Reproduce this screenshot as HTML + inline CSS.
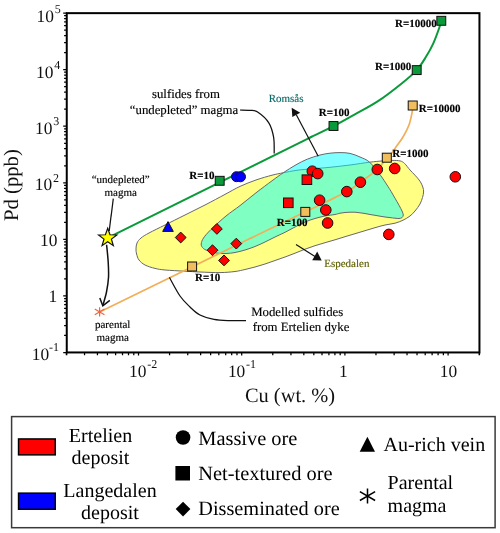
<!DOCTYPE html>
<html lang="en">
<head>
<meta charset="utf-8">
<title>Pd vs Cu</title>
<style>
html,body{margin:0;padding:0;background:#fff;}
body{width:500px;height:533px;overflow:hidden;font-family:"Liberation Serif","Times New Roman",serif;}
svg{display:block;text-rendering:geometricPrecision;will-change:transform;}
</style>
</head>
<body>
<svg width="500" height="533" viewBox="0 0 500 533">
<path d="M136 249C136.07 247.17 136.17 244.83 137 243C137.83 241.17 139 239.67 141 238C143 236.33 145 235.17 149 233C153 230.83 159 228 165 225C171 222 178.33 218.33 185 215C191.67 211.67 198.33 208.43 205 205C211.67 201.57 219.17 197.5 225 194.4C230.83 191.3 234.83 188.8 240 186.4C245.17 184 250.67 181.87 256 180C261.33 178.13 267.47 176.4 272 175.2C276.53 174 279.2 173.6 283.2 172.8C287.2 172 291.73 171.02 296 170.4C300.27 169.78 303.13 169.62 308.8 169.1C314.47 168.58 323.13 167.98 330 167.3C336.87 166.62 343.4 165.85 350 165C356.6 164.15 364.13 162.88 369.6 162.2C375.07 161.52 379.07 161.2 382.8 160.9C386.53 160.6 389.13 160.4 392 160.4C394.87 160.4 397.92 160.4 400 160.9C402.08 161.4 402.83 161.88 404.5 163.4C406.17 164.92 408.25 168.03 410 170C411.75 171.97 413.33 173.33 415 175.2C416.67 177.07 418.7 179.23 420 181.2C421.3 183.17 422.2 185.2 422.8 187C423.4 188.8 423.65 190.25 423.6 192C423.55 193.75 423.1 195.5 422.5 197.5C421.9 199.5 421.25 201.75 420 204C418.75 206.25 416.67 209 415 211C413.33 213 412 214.47 410 216C408 217.53 405.5 219 403 220.2C400.5 221.4 398 222.4 395 223.2C392 224 388.33 224.25 385 225C381.67 225.75 378.33 226.75 375 227.7C371.67 228.65 368.33 229.7 365 230.7C361.67 231.7 358.33 232.7 355 233.7C351.67 234.7 348.33 235.68 345 236.7C341.67 237.72 338.33 238.8 335 239.8C331.67 240.8 328.33 241.72 325 242.7C321.67 243.68 318.33 244.62 315 245.7C311.67 246.78 308.33 247.95 305 249.2C301.67 250.45 298.33 251.9 295 253.2C291.67 254.5 288.33 255.78 285 257C281.67 258.22 278.33 259.33 275 260.5C271.67 261.67 268.33 262.92 265 264C261.67 265.08 258.33 266.08 255 267C251.67 267.92 248.33 268.75 245 269.5C241.67 270.25 239.17 270.98 235 271.5C230.83 272.02 225.83 272.52 220 272.6C214.17 272.68 205.83 272.23 200 272C194.17 271.77 190.83 271.53 185 271.2C179.17 270.87 170 270.47 165 270C160 269.53 158.33 269.23 155 268.4C151.67 267.57 147.67 266.4 145 265C142.33 263.6 140.4 261.83 139 260C137.6 258.17 137.1 255.83 136.6 254C136.1 252.17 135.93 250.83 136 249Z" fill="#ffff84" stroke="#66666c" stroke-width="1"/>
<path d="M201.2 244C201.37 242.42 201.87 240.42 203.5 238C205.13 235.58 207.25 233.17 211 229.5C214.75 225.83 221.17 219.98 226 216C230.83 212.02 235 209.47 240 205.6C245 201.73 250.67 196.93 256 192.8C261.33 188.67 267.47 184.13 272 180.8C276.53 177.47 279.2 175.47 283.2 172.8C287.2 170.13 292 167.07 296 164.8C300 162.53 303.2 160.83 307.2 159.2C311.2 157.57 316.2 156 320 155C323.8 154 326.67 153.6 330 153.2C333.33 152.8 336.67 152.57 340 152.6C343.33 152.63 346.67 152.67 350 153.4C353.33 154.13 356.73 155.53 360 157C363.27 158.47 366.2 159.17 369.6 162.2C373 165.23 377.5 171.4 380.4 175.2C383.3 179 385.23 182.32 387 185C388.77 187.68 389.67 189.1 391 191.3C392.33 193.5 393.67 195.88 395 198.2C396.33 200.52 397.83 203.07 399 205.2C400.17 207.33 401.28 209.37 402 211C402.72 212.63 403.3 213.9 403.3 215C403.3 216.1 402.72 217.02 402 217.6C401.28 218.18 400.17 218.4 399 218.5C397.83 218.6 396.5 218.35 395 218.2C393.5 218.05 391.67 217.8 390 217.6C388.33 217.4 386.67 217.23 385 217C383.33 216.77 381.67 216.48 380 216.2C378.33 215.92 376.67 215.58 375 215.3C373.33 215.02 371.67 214.8 370 214.5C368.33 214.2 366.67 213.78 365 213.5C363.33 213.22 361.67 213.02 360 212.8C358.33 212.58 356.67 212.3 355 212.2C353.33 212.1 351.67 212.15 350 212.2C348.33 212.25 346.67 212.33 345 212.5C343.33 212.67 341.67 212.87 340 213.2C338.33 213.53 337.5 214.03 335 214.5C332.5 214.97 328.33 215.33 325 216C321.67 216.67 318.33 217.5 315 218.5C311.67 219.5 308.33 220.58 305 222C301.67 223.42 298.33 225.28 295 227C291.67 228.72 288.33 230.63 285 232.3C281.67 233.97 278.33 235.38 275 237C271.67 238.62 268.33 240.42 265 242C261.67 243.58 258.33 245.17 255 246.5C251.67 247.83 248.33 249 245 250C241.67 251 238.17 251.92 235 252.5C231.83 253.08 229.17 253.42 226 253.5C222.83 253.58 219.33 253.58 216 253C212.67 252.42 208.25 250.92 206 250C203.75 249.08 203.3 248.5 202.5 247.5C201.7 246.5 201.03 245.58 201.2 244Z" fill="#00ffff" fill-opacity="0.5" stroke="#66666c" stroke-width="1"/>
<path d="M107.7 237.8 L312 136.6" stroke="#0b9a3a" stroke-width="2" fill="none"/>
<path d="M310 137.6C313.92 135.7 326.17 129.98 333.5 126.2C340.83 122.42 346.58 119.07 354 114.9C361.42 110.73 370 106.48 378 101.2C386 95.92 395.55 88.38 402 83.2C408.45 78.02 412.7 74.5 416.7 70.1C420.7 65.7 423.25 61.22 426 56.8C428.75 52.38 431 48.4 433.2 43.6C435.4 38.8 437.87 31.8 439.2 28C440.53 24.2 440.87 22 441.2 20.8" stroke="#0b9a3a" stroke-width="2" fill="none"/>
<path d="M99.6 311.9 L252 237.6" stroke="#f2ae58" stroke-width="1.7" fill="none"/>
<path d="M250 238.6C259.23 234.13 289.23 219.67 305.4 211.8C321.57 203.93 337.9 196.3 347 191.4C356.1 186.5 354.93 186.07 360 182.4C365.07 178.73 372.93 173.52 377.4 169.4C381.87 165.28 384.53 160.27 386.8 157.7C389.07 155.13 389.47 155.78 391 154C392.53 152.22 394 149.83 396 147C398 144.17 400.83 140.67 403 137C405.17 133.33 407.47 129.17 409 125C410.53 120.83 411.58 115.25 412.2 112C412.82 108.75 412.62 106.58 412.7 105.5" stroke="#f2ae58" stroke-width="1.7" fill="none"/>
<path d="M240 110C241.67 110.05 247.07 109.97 250 110.3C252.93 110.63 254.47 109.92 257.6 112C260.73 114.08 266.13 118.6 268.8 122.8C271.47 127 272.7 132.1 273.6 137.2C274.5 142.3 274.1 150.7 274.2 153.4" stroke="#111" stroke-width="1.25" fill="none"/>
<path d="M169.4 277.4C171.17 280.5 176.57 291.07 180 296C183.43 300.93 186.67 303.83 190 307C193.33 310.17 196 312.93 200 315C204 317.07 209 318.47 214 319.4C219 320.33 224.67 320.4 230 320.6C235.33 320.8 243.33 320.6 246 320.6" stroke="#111" stroke-width="1.25" fill="none"/>
<path d="M318.2 156.2 L296.3 114.8" stroke="#111" stroke-width="1.2" fill="none"/>
<path d="M291.7 107.8 L300.2 112.7 L292.3 117.1 Z" fill="#111"/>
<path d="M296 244.6 L315.5 256.8" stroke="#111" stroke-width="1.2" fill="none"/>
<path d="M321.7 260.5 L312.2 260.3 L317.2 251.6 Z" fill="#111"/>
<path d="M113.3 198.6 L109.2 231" stroke="#111" stroke-width="1.25" fill="none"/>
<path d="M106.6 244.7C106.87 247.58 107.88 256.53 108.2 262C108.52 267.47 108.78 272.5 108.5 277.5C108.22 282.5 107.42 287.42 106.5 292C105.58 296.58 103.58 302.83 103 305" stroke="#111" stroke-width="1.5" fill="none"/>
<path d="M99.8 298 L102.8 305.8 L109.8 300.4" stroke="#111" stroke-width="1.5" fill="none" stroke-linejoin="miter"/>
<rect x="215.25" y="176.35" width="8.9" height="8.9" fill="#0b9a3a" stroke="#111" stroke-width="1"/>
<rect x="329.05" y="121.55" width="8.9" height="8.9" fill="#0b9a3a" stroke="#111" stroke-width="1"/>
<rect x="412.25" y="65.65" width="8.9" height="8.9" fill="#0b9a3a" stroke="#111" stroke-width="1"/>
<rect x="436.85" y="16.35" width="8.9" height="8.9" fill="#0b9a3a" stroke="#111" stroke-width="1"/>
<circle cx="236.5" cy="176.7" r="5" fill="#0000ff" stroke="#111" stroke-width="1"/>
<circle cx="240.5" cy="176.8" r="5" fill="#0000ff" stroke="#111" stroke-width="1"/>
<circle cx="312.3" cy="171.2" r="5.3" fill="#ff0000" stroke="#111" stroke-width="1"/>
<circle cx="317.7" cy="173.6" r="5.3" fill="#ff0000" stroke="#111" stroke-width="1"/>
<circle cx="319.6" cy="200.2" r="5.3" fill="#ff0000" stroke="#111" stroke-width="1"/>
<circle cx="325.8" cy="210" r="5.3" fill="#ff0000" stroke="#111" stroke-width="1"/>
<circle cx="327.6" cy="223" r="5.3" fill="#ff0000" stroke="#111" stroke-width="1"/>
<circle cx="346.8" cy="191.6" r="5.3" fill="#ff0000" stroke="#111" stroke-width="1"/>
<circle cx="360.4" cy="182.2" r="5.3" fill="#ff0000" stroke="#111" stroke-width="1"/>
<circle cx="377.3" cy="169.5" r="5.3" fill="#ff0000" stroke="#111" stroke-width="1"/>
<circle cx="394.7" cy="168.5" r="5.3" fill="#ff0000" stroke="#111" stroke-width="1"/>
<circle cx="455.3" cy="176.8" r="5.3" fill="#ff0000" stroke="#111" stroke-width="1"/>
<circle cx="388.8" cy="234.4" r="5.3" fill="#ff0000" stroke="#111" stroke-width="1"/>
<rect x="302.1" y="174.9" width="9.6" height="9.6" fill="#ff0000" stroke="#111" stroke-width="1"/>
<rect x="283.5" y="198" width="9.6" height="9.6" fill="#ff0000" stroke="#111" stroke-width="1"/>
<rect x="187.6" y="262" width="9" height="9" fill="#f0be5c" stroke="#111" stroke-width="1"/>
<rect x="300.8" y="207.4" width="9" height="9" fill="#f0be5c" stroke="#111" stroke-width="1"/>
<rect x="382.3" y="153.2" width="9" height="9" fill="#f0be5c" stroke="#111" stroke-width="1"/>
<rect x="408.2" y="101" width="9" height="9" fill="#f0be5c" stroke="#111" stroke-width="1"/>
<path d="M180.7 232.1 L186.1 237.5 L180.7 242.9 L175.3 237.5Z" fill="#ff0000" stroke="#111" stroke-width="1"/>
<path d="M216.9 223.5 L222.3 228.9 L216.9 234.3 L211.5 228.9Z" fill="#ff0000" stroke="#111" stroke-width="1"/>
<path d="M236.3 238.2 L241.7 243.6 L236.3 249 L230.9 243.6Z" fill="#ff0000" stroke="#111" stroke-width="1"/>
<path d="M212.5 244.8 L217.9 250.2 L212.5 255.6 L207.1 250.2Z" fill="#ff0000" stroke="#111" stroke-width="1"/>
<path d="M224 255 L229.4 260.4 L224 265.8 L218.6 260.4Z" fill="#ff0000" stroke="#111" stroke-width="1"/>
<path d="M168 221.6 L173.3 231.4 L162.7 231.4Z" fill="#0000ff" stroke="#111" stroke-width="1"/>
<path d="M107.7 228.3 L109.99 234.74 L116.83 234.93 L111.41 239.11 L113.34 245.67 L107.7 241.8 L102.06 245.67 L103.99 239.11 L98.57 234.93 L105.41 234.74Z" fill="#ffff00" stroke="#111" stroke-width="1.2" stroke-linejoin="miter"/>
<path d="M99.6 307.2 L99.6 316.6 M94.75 309.1 L104.45 314.7 M104.45 309.1 L94.75 314.7 " stroke="#f2653a" stroke-width="1.2" fill="none"/>
<rect x="66.75" y="13.15" width="412.7" height="339.3" fill="none" stroke="#000" stroke-width="2"/>
<path d="M63.2 352.5 H66.75 M64.1 335.47 H66.75 M64.1 325.51 H66.75 M64.1 318.44 H66.75 M64.1 312.96 H66.75 M64.1 308.48 H66.75 M64.1 304.69 H66.75 M64.1 301.41 H66.75 M64.1 298.52 H66.75 M63.2 295.93 H66.75 M64.1 278.9 H66.75 M64.1 268.94 H66.75 M64.1 261.87 H66.75 M64.1 256.39 H66.75 M64.1 251.91 H66.75 M64.1 248.12 H66.75 M64.1 244.84 H66.75 M64.1 241.95 H66.75 M63.2 239.36 H66.75 M64.1 222.33 H66.75 M64.1 212.37 H66.75 M64.1 205.3 H66.75 M64.1 199.82 H66.75 M64.1 195.34 H66.75 M64.1 191.55 H66.75 M64.1 188.27 H66.75 M64.1 185.38 H66.75 M63.2 182.79 H66.75 M64.1 165.76 H66.75 M64.1 155.8 H66.75 M64.1 148.73 H66.75 M64.1 143.25 H66.75 M64.1 138.77 H66.75 M64.1 134.98 H66.75 M64.1 131.7 H66.75 M64.1 128.81 H66.75 M63.2 126.22 H66.75 M64.1 109.19 H66.75 M64.1 99.23 H66.75 M64.1 92.16 H66.75 M64.1 86.68 H66.75 M64.1 82.2 H66.75 M64.1 78.41 H66.75 M64.1 75.13 H66.75 M64.1 72.24 H66.75 M63.2 69.65 H66.75 M64.1 52.62 H66.75 M64.1 42.66 H66.75 M64.1 35.59 H66.75 M64.1 30.11 H66.75 M64.1 25.63 H66.75 M64.1 21.84 H66.75 M64.1 18.56 H66.75 M64.1 15.67 H66.75 M63.2 13.08 H66.75 M66.37 352.45 V355.2 M84.54 352.45 V355.2 M97.43 352.45 V355.2 M107.43 352.45 V355.2 M115.61 352.45 V355.2 M122.51 352.45 V355.2 M128.5 352.45 V355.2 M133.78 352.45 V355.2 M138.5 352.45 V355.6 M169.57 352.45 V355.2 M187.74 352.45 V355.2 M200.63 352.45 V355.2 M210.63 352.45 V355.2 M218.81 352.45 V355.2 M225.71 352.45 V355.2 M231.7 352.45 V355.2 M236.98 352.45 V355.2 M241.7 352.45 V355.6 M272.77 352.45 V355.2 M290.94 352.45 V355.2 M303.83 352.45 V355.2 M313.83 352.45 V355.2 M322.01 352.45 V355.2 M328.91 352.45 V355.2 M334.9 352.45 V355.2 M340.18 352.45 V355.2 M344.9 352.45 V355.6 M375.97 352.45 V355.2 M394.14 352.45 V355.2 M407.03 352.45 V355.2 M417.03 352.45 V355.2 M425.21 352.45 V355.2 M432.11 352.45 V355.2 M438.1 352.45 V355.2 M443.38 352.45 V355.2 M448.1 352.45 V355.6 M479.17 352.45 V355.2 M66.75 352.45 V355.2 M479.45 352.45 V355.2" stroke="#000" stroke-width="1.25" fill="none"/>
<g font-family="'Liberation Serif', 'Times New Roman', serif" fill="#111">
<text x="36.6" y="21.8" font-size="17.4">10</text>
<text x="54.8" y="13" font-size="12">5</text>
<text x="36.1" y="77.9" font-size="17.4">10</text>
<text x="54.3" y="69.1" font-size="12">4</text>
<text x="35" y="134" font-size="17.4">10</text>
<text x="53.2" y="125.2" font-size="12">3</text>
<text x="34.7" y="190.3" font-size="17.4">10</text>
<text x="52.9" y="181.5" font-size="12">2</text>
<text x="40" y="245.7" font-size="17.4">10</text>
<text x="48.4" y="301.6" font-size="17.4">1</text>
<text x="31.7" y="360.1" font-size="17.4">10</text>
<text x="49.1" y="351.3" font-size="12">-1</text>
<text x="129.1" y="376.6" font-size="17.4">10</text>
<text x="147.3" y="367.8" font-size="12">-2</text>
<text x="227.9" y="376.6" font-size="17.4">10</text>
<text x="246.1" y="367.8" font-size="12">-1</text>
<text x="339.1" y="376.6" font-size="17.4">1</text>
<text x="439.7" y="376.6" font-size="17.4">10</text>
<text x="290" y="401.8" font-size="20.4" text-anchor="middle">Cu (wt. %)</text>
<text transform="translate(18.2 185.1) rotate(-90)" font-size="20.7" text-anchor="middle">Pd (ppb)</text>
<g font-size="12.8" fill="#000" stroke="#000" stroke-width="0.15">
<text x="185.9" y="98.2" text-anchor="middle">sulfides from</text>
<text x="184" y="113.8" text-anchor="middle">“undepleted” magma</text>
<text x="297.2" y="316" text-anchor="middle">Modelled sulfides</text>
<text x="301" y="331.2" text-anchor="middle">from Ertelien dyke</text>
</g>
<g font-size="11" fill="#000" stroke="#000" stroke-width="0.15">
<text x="120.7" y="183.1" text-anchor="middle">“undepleted”</text>
<text x="120.7" y="195.6" text-anchor="middle">magma</text>
<text x="112.7" y="328.2" text-anchor="middle">parental</text>
<text x="112.7" y="340.7" text-anchor="middle">magma</text>
<text x="268.7" y="102.2" fill="#0c6a6a" stroke="#0c6a6a">Romsås</text>
<text x="324.2" y="267" fill="#606000" stroke="#606000">Espedalen</text>
</g>
<g font-size="11" font-weight="bold" fill="#000" stroke="#000" stroke-width="0.15">
<text x="395" y="26.8">R=10000</text>
<text x="375" y="69.7">R=1000</text>
<text x="318.8" y="116">R=100</text>
<text x="189.3" y="179.4">R=10</text>
<text x="418.8" y="111.7">R=10000</text>
<text x="392.3" y="157">R=1000</text>
<text x="276.8" y="225.7">R=100</text>
<text x="195" y="281">R=10</text>
</g>
<g font-size="20" fill="#000">
<text x="100.5" y="441.6" text-anchor="middle">Ertelien</text>
<text x="100.5" y="463.7" text-anchor="middle">deposit</text>
<text x="110" y="496.7" text-anchor="middle">Langedalen</text>
<text x="110" y="519.1" text-anchor="middle">deposit</text>
<text x="198.3" y="444.8" font-size="20.4">Massive ore</text>
<text x="198.3" y="479.7" font-size="20.4">Net-textured ore</text>
<text x="198.3" y="514.5" font-size="20.3">Disseminated ore</text>
<text x="383.5" y="451">Au-rich vein</text>
<text x="387.6" y="489.4">Parental</text>
<text x="387.6" y="511.8">magma</text>
</g>
</g>
<rect x="11.6" y="416.6" width="483.5" height="111.1" fill="none" stroke="#3a3a3a" stroke-width="1.5"/>
<rect x="18.55" y="438.95" width="36.7" height="15.9" fill="#ff0000" stroke="#000" stroke-width="1.5"/>
<rect x="18.55" y="493.15" width="36.7" height="16.1" fill="#0000ff" stroke="#000" stroke-width="1.5"/>
<circle cx="183.05" cy="437.5" r="7.3" fill="#000"/>
<rect x="175.4" y="466" width="14.6" height="14.5" fill="#000"/>
<path d="M183.05 501.75 L190.4 509.1 L183.05 516.45 L175.7 509.1Z" fill="#000"/>
<path d="M367.4 436.8 L375 451.8 L359.7 451.8Z" fill="#000"/>
<path d="M367.5 488.6 L367.5 503.6 M359.88 491.7 L375.12 500.5 M375.12 491.7 L359.88 500.5 " stroke="#000" stroke-width="1.5" fill="none"/>
</svg>
</body>
</html>
